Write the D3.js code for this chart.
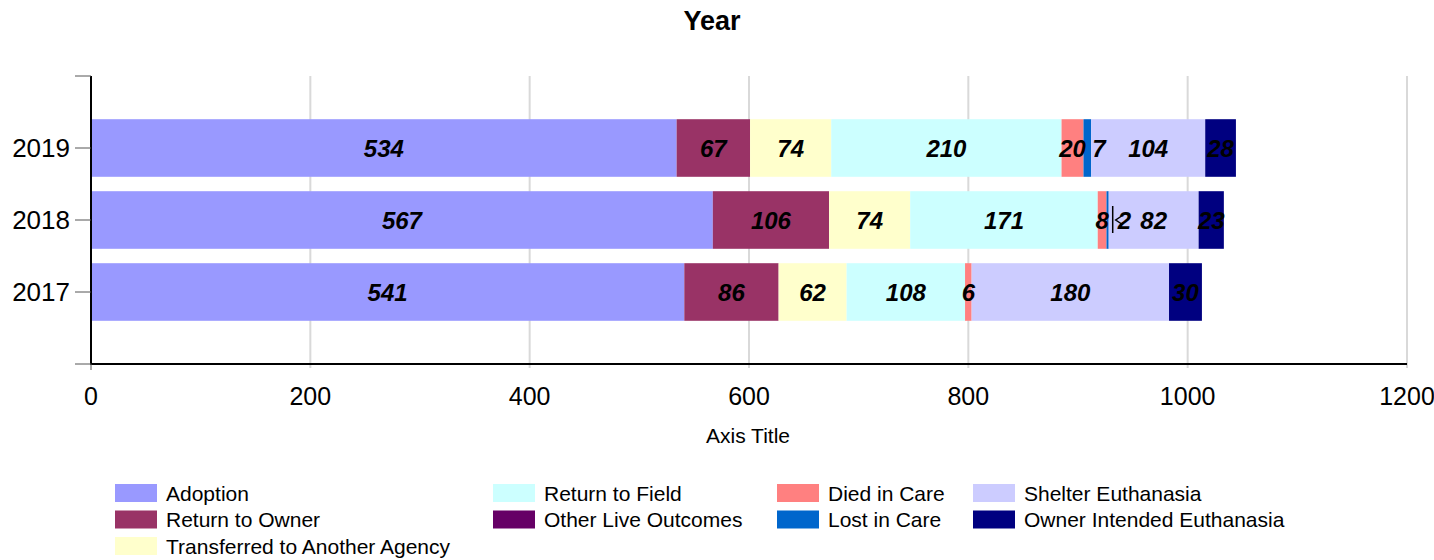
<!DOCTYPE html>
<html><head><meta charset="utf-8">
<script src="https://cdn.jsdelivr.net/npm/d3@7"></script>
<style>body{margin:0;background:#fff;} text{font-family:"Liberation Sans",Arial,sans-serif;}</style>
</head><body>
<svg id="c" width="1434" height="560"></svg>
<script>
const years = ["2019", "2018", "2017"];
const seriesNames = ["Adoption","Return to Owner","Transferred to Another Agency","Return to Field","Other Live Outcomes","Died in Care","Lost in Care","Shelter Euthanasia","Owner Intended Euthanasia"];
const seriesColors = ["#9999ff","#993366","#ffffcc","#ccffff","#660066","#ff8080","#0066cc","#ccccff","#000080"];
const adoption = [534, 567, 541];
const returnToOwner = [67, 106, 86];
const transferred = [74, 74, 62];
const returnToField = [210, 171, 108];
const otherLive = [0, 0, 0];
const diedInCare = [20, 8, 6];
const lostInCare = [7, 2, 0];
const shelterEuth = [104, 82, 180];
const ownerEuth = [28, 23, 30];
const xTicks = [0, 200, 400, 600, 800, 1000, 1200];

const seriesValues = [adoption, returnToOwner, transferred, returnToField, otherLive, diedInCare, lostInCare, shelterEuth, ownerEuth];
const rows = years.map((y, i) => {
  const r = {year: y};
  seriesNames.forEach((s, j) => r[s] = seriesValues[j][i]);
  return r;
});
const stacked = d3.stack().keys(seriesNames)(rows);

const svg = d3.select("#c");
const pLeft = 91, pRight = 1407, pTop = 76, pBottom = 364;
const x = d3.scaleLinear().domain([0, 1200]).range([pLeft, pRight]);
const y = d3.scaleBand().domain(years).range([112, 328]).paddingInner(0.2).paddingOuter(0.1);

// gridlines
svg.append("g").selectAll("line").data(xTicks.slice(1)).join("line")
  .attr("x1", d => x(d)).attr("x2", d => x(d))
  .attr("y1", pTop).attr("y2", pBottom + 4)
  .attr("stroke", "#d9d9d9").attr("stroke-width", 2);

// bars
const g = svg.append("g");
stacked.forEach((layer, j) => {
  g.append("g").attr("fill", seriesColors[j]).selectAll("rect").data(layer).join("rect")
    .attr("x", d => x(d[0])).attr("width", d => x(d[1]) - x(d[0]))
    .attr("y", d => y(d.data.year)).attr("height", y.bandwidth());
});

// labels
const lab = (px, py, anchor, v) => svg.append("text").attr("x", px).attr("y", py).attr("dy", "0.36em")
  .attr("text-anchor", anchor).attr("font-size", 24).attr("font-weight", "bold")
  .attr("font-style", "italic").attr("fill", "#000").text(v);
stacked.forEach((layer, j) => {
  layer.forEach(d => {
    const v = d[1] - d[0];
    if (v <= 0) return;
    const cx = (x(d[0]) + x(d[1])) / 2;
    const cy = y(d.data.year) + y.bandwidth() / 2;
    if (seriesNames[j] === "Lost in Care") {
      if (v < 5) {
        const lx = x(d[1]) + 4;
        svg.append("line").attr("x1", lx).attr("x2", lx).attr("y1", cy - 14).attr("y2", cy + 13)
          .attr("stroke", "#000").attr("stroke-width", 1.5);
        svg.append("path").attr("d", `M${lx+9},${cy-4} L${lx+3},${cy} L${lx+9},${cy+4}`)
          .attr("fill", "none").attr("stroke", "#000").attr("stroke-width", 1.5);
        lab(lx + 5, cy, "start", v);
      } else {
        lab(x(d[1]) + 1, cy, "start", v);
      }
      return;
    }
    lab(cx, cy, "middle", v);
  });
});

// y axis
svg.append("line").attr("x1", pLeft).attr("x2", pLeft).attr("y1", pTop).attr("y2", pBottom + 1)
  .attr("stroke", "#000").attr("stroke-width", 2);
const yTickPos = [pTop, ...years.map(d => y(d) + y.bandwidth() / 2), pBottom];
svg.append("g").selectAll("line").data(yTickPos).join("line")
  .attr("x1", pLeft - 16).attr("x2", pLeft).attr("y1", d => d).attr("y2", d => d)
  .attr("stroke", "#555").attr("stroke-width", 1);
svg.append("g").selectAll("text").data(years).join("text")
  .attr("x", pLeft - 21).attr("y", d => y(d) + y.bandwidth() / 2).attr("dy", "0.36em")
  .attr("text-anchor", "end").attr("font-size", 26).attr("fill", "#000").text(d => d);

// x axis
svg.append("line").attr("x1", pLeft).attr("x2", pRight).attr("y1", pBottom).attr("y2", pBottom)
  .attr("stroke", "#000").attr("stroke-width", 2);
svg.append("line").attr("x1", pLeft).attr("x2", pLeft).attr("y1", pBottom).attr("y2", pBottom + 6)
  .attr("stroke", "#555").attr("stroke-width", 1);
svg.append("g").selectAll("text").data(xTicks).join("text")
  .attr("x", d => x(d)).attr("y", 396).attr("dy", "0.36em")
  .attr("text-anchor", "middle").attr("font-size", 25).attr("fill", "#000").text(d => d);

// titles
svg.append("text").attr("x", 712).attr("y", 20).attr("dy", "0.36em").attr("text-anchor", "middle")
  .attr("font-size", 27).attr("font-weight", "bold").text("Year");
svg.append("text").attr("x", 748).attr("y", 435).attr("dy", "0.36em").attr("text-anchor", "middle")
  .attr("font-size", 21).text("Axis Title");

// legend
const legendCols = [[0,1,2],[3,4],[5,6],[7,8]];
const colX = [115, 493, 777, 973];
const rowY = [493, 519.5, 546];
legendCols.forEach((col, ci) => {
  col.forEach((si, ri) => {
    svg.append("rect").attr("x", colX[ci]).attr("y", rowY[ri] - 9).attr("width", 42).attr("height", 18)
      .attr("fill", seriesColors[si]);
    svg.append("text").attr("x", colX[ci] + 51).attr("y", rowY[ri]).attr("dy", "0.36em")
      .attr("font-size", 21).attr("fill", "#000").text(seriesNames[si]);
  });
});
</script>
</body></html>
